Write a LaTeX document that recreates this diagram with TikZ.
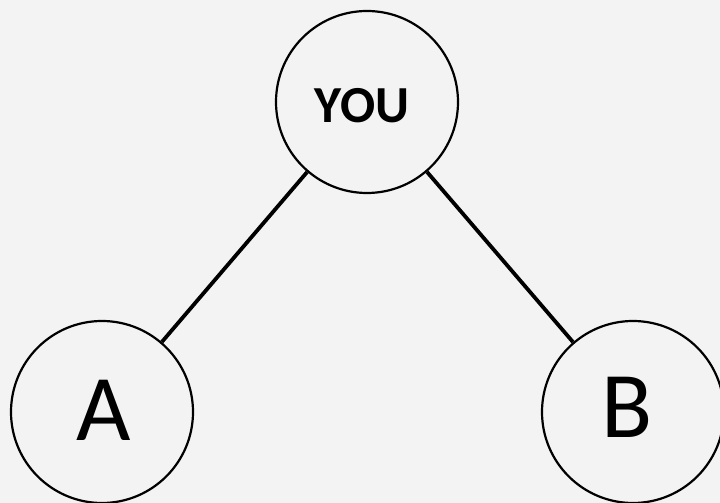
\documentclass[tikz,border=0pt]{standalone}
\usepackage{fontspec}
\setmainfont{Carlito}
\definecolor{bg}{HTML}{F3F3F3}
\begin{document}
\begin{tikzpicture}[x=1pt,y=1pt,
  person/.style={circle,draw=black,line width=2.2pt,minimum size=182pt,inner sep=0pt},
  link/.style={draw=black,line width=3.8pt}]
\fill[bg] (0,0) rectangle (720,503);
\useasboundingbox (0,0) rectangle (720,503);
\node[person] (you) at (367,401) {};
\node[font=\fontsize{52}{52}\selectfont\bfseries] (youtxt) at (362,397) {YOU};
\node[person] (a) at (102,91) {};
\node[font=\fontsize{94}{94}\selectfont] (atxt) at (104,93) {A};
\node[person] (b) at (633,91) {};
\node[font=\fontsize{94}{94}\selectfont] (btxt) at (627,96) {B};
\draw[link] (you) -- (a);
\draw[link] (you) -- (b);
\end{tikzpicture}
\end{document}
